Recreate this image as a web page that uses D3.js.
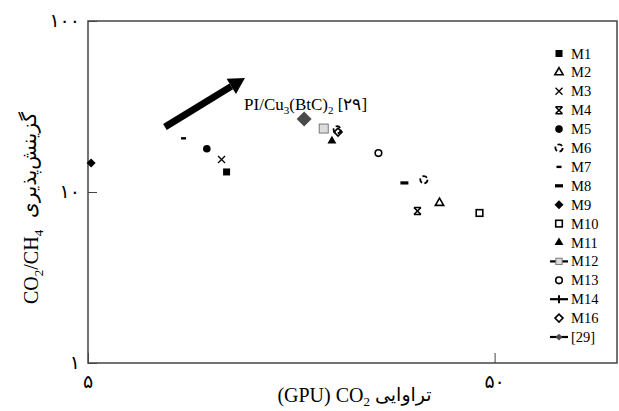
<!DOCTYPE html>
<html><head><meta charset="utf-8">
<script src="https://cdn.jsdelivr.net/npm/d3@7"></script>
<style>body{margin:0;background:#fff}svg{display:block}</style>
</head><body>
<script>
// ---------- data ----------
const legendNames = ["M1","M2","M3","M4","M5","M6","M7","M8","M9","M10","M11","M12","M13","M14","M16","[29]"];
const pointSeries = ["M9","M7","M5","M3","M1","[29]","M12","M16","M6","M11","M13","M8","M6","M2","M4","M10"];
const permeability = [5.09, 8.59, 9.80, 10.65, 10.96, 17.0, 19.0, 20.6, 20.5, 19.9, 25.9, 30.0, 33.5, 36.6, 32.3, 45.9];
const selectivity  = [14.8, 20.6, 17.9, 15.5, 13.1, 26.7, 23.5, 22.4, 23.1, 19.9, 16.9, 11.3, 11.8, 8.63, 7.74, 7.54];
const xTicks = [5, 50];
const yTicks = [1, 10, 100];
const xTickLabels = ["۵", "۵۰"];
const yTickLabels = ["۱", "۱۰", "۱۰۰"];
const arrowFrom = [7.73, 24.0];
const arrowTo = [12.16, 46.4];
const annotPos = [12.1, 30.2];

// ---------- layout ----------
const W = 619, H = 411;
const m = {l: 88, t: 21, r: 2, b: 48};
const svg = d3.select("body").append("svg").attr("width", W).attr("height", H);
const x = d3.scaleLog().domain([5, 100]).range([m.l, W - m.r]);
const y = d3.scaleLog().domain([1, 100]).range([H - m.b, m.t]);
const serif = "'Liberation Serif','Times New Roman',serif";
const fa = "'DejaVu Sans','Noto Sans',sans-serif";

// frame
svg.append("rect").attr("x", x(5)).attr("y", y(100))
  .attr("width", x(100) - x(5)).attr("height", y(1) - y(100))
  .attr("fill", "none").attr("stroke", "#444").attr("stroke-width", 1.5);

// axes (inward ticks)
const xAxis = d3.axisBottom(x).tickValues(xTicks).tickSizeInner(-10).tickSizeOuter(0).tickFormat("");
const gx = svg.append("g").attr("transform", `translate(0,${y(1)})`).call(xAxis);
gx.select(".domain").remove();
gx.selectAll(".tick line").attr("stroke", "#444").attr("stroke-width", 1);
const yAxis = d3.axisLeft(y).tickValues(yTicks).tickSizeInner(-9).tickSizeOuter(0).tickFormat("");
const gy = svg.append("g").attr("transform", `translate(${x(5)},0)`).call(yAxis);
gy.select(".domain").remove();
gy.selectAll(".tick line").attr("stroke", "#444").attr("stroke-width", 1);

// tick labels
svg.selectAll(".xl").data(xTicks).join("text").attr("class", "xl")
  .attr("x", d => x(d)).attr("y", y(1) + 25).attr("text-anchor", "middle")
  .attr("font-family", fa).attr("font-size", 19).attr("fill", "#000")
  .text((d, i) => xTickLabels[i]);
svg.selectAll(".yl").data(yTicks).join("text").attr("class", "yl")
  .attr("x", x(5) - 8).attr("y", d => y(d) + 6).attr("text-anchor", "end")
  .attr("font-family", fa).attr("font-size", 19).attr("fill", "#000")
  .text((d, i) => yTickLabels[i]);

// axis titles
const xt = svg.append("text").attr("x", 370).attr("y", 402).attr("text-anchor", "end")
  .attr("font-family", serif).attr("font-size", 20);
xt.append("tspan").text("(GPU) CO");
xt.append("tspan").attr("font-size", 13).attr("dy", 4).text("2");
svg.append("text").attr("x", 375).attr("y", 401).attr("text-anchor", "start")
  .attr("font-family", fa).attr("font-size", 19).text("تراوایی");

const yt = svg.append("text").attr("transform", "translate(38,304) rotate(-90)")
  .attr("text-anchor", "start").attr("font-family", serif).attr("font-size", 20);
yt.append("tspan").text("CO");
yt.append("tspan").attr("font-size", 13).attr("dy", 5).text("2");
yt.append("tspan").attr("dy", -5).text("/CH");
yt.append("tspan").attr("font-size", 13).attr("dy", 5).text("4");
svg.append("text").attr("transform", "translate(36,218) rotate(-90)")
  .attr("text-anchor", "start").attr("font-family", fa).attr("font-size", 20).text("گزینش‌پذیری");

// ---------- markers ----------
function marker(g, name, s) {
  const k = s || 1;
  switch (name) {
    case "M1": g.append("rect").attr("x", -3.5*k).attr("y", -3.5*k).attr("width", 7*k).attr("height", 7*k).attr("fill", "#000"); break;
    case "M2": g.append("path").attr("d", d3.symbol(d3.symbolTriangle, 30*k*k)).attr("fill", "#fff").attr("stroke", "#000").attr("stroke-width", 1.6); break;
    case "M3": g.append("path").attr("d", `M${-3.5*k},${-3.5*k}L${3.5*k},${3.5*k}M${3.5*k},${-3.5*k}L${-3.5*k},${3.5*k}`).attr("stroke", "#000").attr("stroke-width", 1.3).attr("fill", "none"); break;
    case "M4": g.append("path").attr("d", `M-3.5,-3.5L3.5,3.5M3.5,-3.5L-3.5,3.5M-3.5,-3.5L3.5,-3.5M-3.5,3.5L3.5,3.5`).attr("stroke", "#000").attr("stroke-width", 1.6).attr("fill", "none"); break;
    case "M5": g.append("circle").attr("r", 3.8*k).attr("fill", "#000"); break;
    case "M6": g.append("circle").attr("r", 3.6*k).attr("fill", "none").attr("stroke", "#000").attr("stroke-width", 1.8).attr("stroke-dasharray", "5,2.5"); break;
    case "M7": g.append("rect").attr("x", -2.5).attr("y", -1.2).attr("width", 5).attr("height", 2.4).attr("fill", "#000"); break;
    case "M8": g.append("rect").attr("x", -4).attr("y", -1.6).attr("width", 8).attr("height", 3.2).attr("fill", "#000"); break;
    case "M9": g.append("path").attr("d", "M0,-4.5L4.5,0L0,4.5L-4.5,0Z").attr("fill", "#000"); break;
    case "M10": g.append("rect").attr("x", -3.3).attr("y", -3.3).attr("width", 6.6).attr("height", 6.6).attr("fill", "#fff").attr("stroke", "#000").attr("stroke-width", 1.6); break;
    case "M11": g.append("path").attr("d", d3.symbol(d3.symbolTriangle, 34)).attr("fill", "#000"); break;
    case "M12": g.append("rect").attr("x", -4.5*k).attr("y", -4.5*k).attr("width", 9*k).attr("height", 9*k).attr("fill", "#ddd").attr("stroke", "#777").attr("stroke-width", 1); break;
    case "M13": g.append("circle").attr("r", 3.3).attr("fill", "#fff").attr("stroke", "#000").attr("stroke-width", 1.6); break;
    case "M14": g.append("path").attr("d", "M0,-4L0,4").attr("stroke", "#000").attr("stroke-width", 2); break;
    case "M16": g.append("path").attr("d", "M0,-4L4,0L0,4L-4,0Z").attr("fill", "#fff").attr("stroke", "#000").attr("stroke-width", 1.6); break;
    case "[29]": g.append("path").attr("d", `M0,${-7.5*k}L${7.5*k},0L0,${7.5*k}L${-7.5*k},0Z`).attr("fill", "#4a4a4a"); break;
  }
}

// points
const pts = pointSeries.map((s, i) => ({s, px: permeability[i], sy: selectivity[i]}));
const order = ["[29]","M12","M11","M16","M6"];
pts.sort((a, b) => order.indexOf(a.s) - order.indexOf(b.s));
pts.forEach(p => {
  const g = svg.append("g").attr("transform", `translate(${x(p.px)},${y(p.sy)})`);
  marker(g, p.s, 1);
});

// legend
const lineEntries = ["M12", "M14", "[29]"];
legendNames.forEach((n, i) => {
  const ly = 53.5 + i * 18.9;
  const g = svg.append("g").attr("transform", `translate(559,${ly})`);
  if (lineEntries.includes(n)) {
    g.append("line").attr("x1", -9).attr("x2", 9).attr("stroke", "#000").attr("stroke-width", 2.2);
  }
  const k = n === "[29]" ? 0.45 : (n === "M12" ? 0.7 : 1);
  marker(g, n, k);
  svg.append("text").attr("x", 571).attr("y", ly + 5).attr("font-family", serif)
    .attr("font-size", 14.5).attr("fill", "#000").text(n);
});

// arrow annotation
const ax0 = x(arrowFrom[0]), ay0 = y(arrowFrom[1]), ax1 = x(arrowTo[0]), ay1 = y(arrowTo[1]);
const ang = Math.atan2(ay1 - ay0, ax1 - ax0);
const headL = 16, headW = 9;
const bx = ax1 - headL * Math.cos(ang), by = ay1 - headL * Math.sin(ang);
svg.append("line").attr("x1", ax0).attr("y1", ay0).attr("x2", bx).attr("y2", by)
  .attr("stroke", "#000").attr("stroke-width", 7);
const nx = -Math.sin(ang), ny = Math.cos(ang);
svg.append("path").attr("d", `M${ax1},${ay1}L${bx + nx*headW},${by + ny*headW}L${bx - nx*headW},${by - ny*headW}Z`).attr("fill", "#000");

// annotation label
const at = svg.append("text").attr("x", x(annotPos[0])).attr("y", y(annotPos[1]))
  .attr("font-family", serif).attr("font-size", 17).attr("fill", "#000");
at.append("tspan").text("PI/Cu");
at.append("tspan").attr("font-size", 11).attr("dy", 4).text("3");
at.append("tspan").attr("dy", -4).text("(BtC)");
at.append("tspan").attr("font-size", 11).attr("dy", 4).text("2");
at.append("tspan").attr("dy", -4).text(" [۲۹]");
</script>
</body></html>
